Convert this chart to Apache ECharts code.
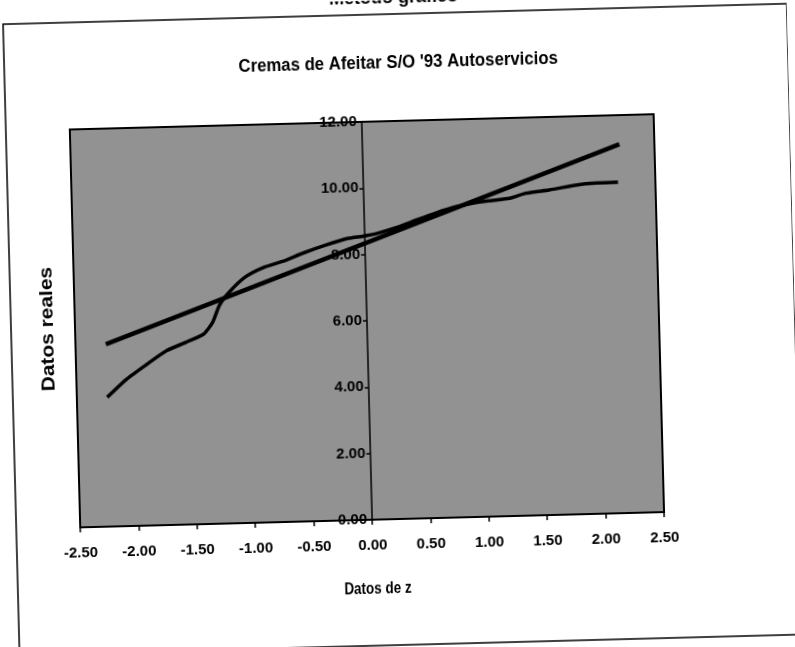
<!DOCTYPE html>
<html>
<head>
<meta charset="utf-8">
<script src="https://cdn.jsdelivr.net/npm/echarts@6/dist/echarts.min.js"></script>
<style>
  html, body { margin: 0; padding: 0; background: #fff; overflow: hidden; }
  #chart { width: 795px; height: 647px; transform: rotate(-1.5deg); transform-origin: 397px 323px; }
</style>
</head>
<body>
<div id="chart"></div>
<script>
// Normal probability plot: observed values against their z scores
const zScores = [-2.24, -2.07, -1.89, -1.72, -1.55, -1.40, -1.32, -1.26, -1.17, -1.03,
                 -0.88, -0.68, -0.54, -0.34, -0.14, -0.02, 0.10, 0.27, 0.45, 0.62,
                 0.78, 0.93, 1.07, 1.25, 1.39, 1.59, 1.83, 2.00, 2.18];
const realValues = [3.90, 4.43, 4.87, 5.26, 5.50, 5.73, 6.08, 6.58, 6.98, 7.42,
                    7.68, 7.89, 8.08, 8.31, 8.50, 8.55, 8.62, 8.78, 9.00, 9.20,
                    9.36, 9.46, 9.52, 9.58, 9.72, 9.80, 9.93, 9.97, 9.98];

// Reference straight line (mean + sd * z)
const fitZ = [-2.24, 2.20];
const fitValues = [5.50, 11.12];

// Axis ticks
const xTicks = [-2.5, -2.0, -1.5, -1.0, -0.5, 0.0, 0.5, 1.0, 1.5, 2.0, 2.5];
const yTicks = [0, 2, 4, 6, 8, 10, 12];

const titleText = "Cremas de Afeitar S/O '93 Autoservicios";
const headerText = 'Método gráfico';
const xName = 'Datos de z';
const yName = 'Datos reales';

const font = '"Liberation Sans", Arial, sans-serif';
const GRID_LEFT = 75;

const chart = echarts.init(document.getElementById('chart'), null, { renderer: 'canvas' });

const option = {
  animation: false,
  backgroundColor: '#ffffff',
  grid: {
    left: GRID_LEFT, right: 136, top: 121, bottom: 128,
    show: true,
    backgroundColor: '#929292',
    borderColor: '#000',
    borderWidth: 2
  },
  xAxis: {
    type: 'value',
    min: xTicks[0],
    max: xTicks[xTicks.length - 1],
    interval: xTicks[1] - xTicks[0],
    axisLine: { show: true, onZero: false, lineStyle: { color: '#000', width: 2 } },
    axisTick: { show: true, length: 5, lineStyle: { color: '#000', width: 1.5 } },
    axisLabel: {
      color: '#000',
      fontFamily: font, fontWeight: 'bold', fontSize: 15,
      margin: 18,
      formatter: v => v.toFixed(2)
    },
    splitLine: { show: false }
  },
  yAxis: {
    type: 'value',
    position: 'left',
    min: yTicks[0],
    max: yTicks[yTicks.length - 1],
    interval: yTicks[1] - yTicks[0],
    axisLine: { show: true, onZero: false, lineStyle: { color: '#000', width: 1.5 } },
    axisTick: { show: true, length: 4, lineStyle: { color: '#000', width: 1.5 } },
    axisLabel: {
      color: '#000',
      fontFamily: font, fontWeight: 'bold', fontSize: 15,
      margin: 5,
      formatter: v => v.toFixed(2)
    },
    splitLine: { show: false }
  },
  series: [
    {
      name: 'Recta normal',
      type: 'line',
      data: fitZ.map((z, i) => [z, fitValues[i]]),
      showSymbol: false,
      lineStyle: { color: '#000', width: 4.5 },
      z: 3
    },
    {
      name: 'Datos reales',
      type: 'line',
      data: zScores.map((z, i) => [z, realValues[i]]),
      showSymbol: false,
      smooth: 0.2,
      lineStyle: { color: '#000', width: 3.5 },
      z: 4
    }
  ],
  graphic: [
    {
      type: 'rect',
      shape: { x: 11, y: 14, width: 784, height: 631 },
      style: { fill: 'none', stroke: '#000', lineWidth: 1.5 },
      silent: true
    },
    {
      type: 'text',
      x: 402, y: 7,
      style: {
        text: headerText, font: 'bold 18px ' + font, fill: '#000',
        align: 'center', verticalAlign: 'bottom',
        textAlign: 'center', textVerticalAlign: 'bottom'
      }
    },
    {
      type: 'text',
      x: 405, y: 63,
      scaleX: 0.93,
      style: {
        text: titleText, font: 'bold 18px ' + font, fill: '#000',
        align: 'center', verticalAlign: 'middle',
        textAlign: 'center', textVerticalAlign: 'middle'
      }
    },
    {
      type: 'text',
      x: 48, y: 320,
      rotation: Math.PI / 2,
      scaleX: 1.1,
      style: {
        text: yName, font: 'bold 19px ' + font, fill: '#000',
        align: 'center', verticalAlign: 'middle',
        textAlign: 'center', textVerticalAlign: 'middle'
      }
    },
    {
      type: 'text',
      x: 371, y: 589,
      scaleX: 0.84,
      style: {
        text: xName, font: 'bold 16px ' + font, fill: '#000',
        align: 'center', verticalAlign: 'middle',
        textAlign: 'center', textVerticalAlign: 'middle'
      }
    }
  ]
};

chart.setOption(option);

// Put the vertical axis (line, ticks and labels) where z = 0
const zeroX = chart.convertToPixel({ xAxisIndex: 0 }, 0);
chart.setOption({ yAxis: { offset: -(zeroX - GRID_LEFT) } });
</script>
</body>
</html>
